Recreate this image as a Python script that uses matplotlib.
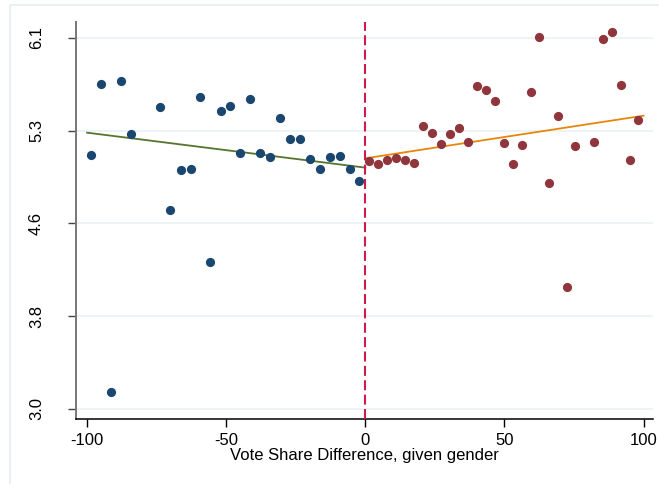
import matplotlib.pyplot as plt
import matplotlib.patches as patches

plt.rcParams['font.family'] = ['Liberation Sans', 'DejaVu Sans']

# left of cutoff (bin means)
left_x = [-98.6, -95.0, -91.5, -87.9, -84.2, -73.7, -70.1, -66.4, -62.8, -59.3,
          -55.7, -52.0, -48.5, -45.0, -41.4, -37.9, -34.3, -30.7, -27.2, -23.6,
          -20.0, -16.4, -12.8, -9.2, -5.6, -2.2]
left_y = [5.118, 5.714, 3.145, 5.739, 5.294, 5.524, 4.659, 4.996, 5.004, 5.605,
          4.225, 5.488, 5.527, 5.135, 5.591, 5.135, 5.107, 5.430, 5.257, 5.252,
          5.087, 5.002, 5.102, 5.110, 5.002, 4.904]

# right of cutoff (bin means)
right_x = [1.3, 4.6, 7.9, 11.0, 14.3, 17.4, 20.7, 24.0, 27.2, 30.3,
           33.6, 36.8, 40.0, 43.3, 46.5, 49.9, 53.0, 56.3, 59.5, 62.5,
           65.9, 69.2, 72.4, 75.5, 82.1, 85.3, 88.6, 91.7, 95.0, 98.1]
right_y = [5.073, 5.046, 5.079, 5.096, 5.079, 5.052, 5.363, 5.302, 5.215, 5.299,
           5.344, 5.227, 5.697, 5.661, 5.569, 5.224, 5.046, 5.202, 5.647, 6.106,
           4.887, 5.446, 4.017, 5.194, 5.227, 6.089, 6.150, 5.705, 5.079, 5.413]

# linear fits on each side
fit_left_x = [-100, 0]
fit_left_y = [5.307, 5.015]
fit_right_x = [0, 100]
fit_right_y = [5.093, 5.449]

yticks = [3.0, 3.775, 4.55, 5.325, 6.1]
ytick_labels = ["3.0", "3.8", "4.6", "5.3", "6.1"]
xticks = [-100, -50, 0, 50, 100]

fig = plt.figure(figsize=(6.59, 4.84), dpi=100)
fig.patches.append(patches.Rectangle((10 / 659, -0.1), 1.2, 1 - 4.5 / 484 + 0.1,
                                     transform=fig.transFigure, fill=False,
                                     edgecolor="#e6eef0", linewidth=1.2))
ax = fig.add_axes([0.1153, 0.1337, 0.8761, 0.8208])

for y in yticks:
    ax.axhline(y, color="#eaf2f3", linewidth=1.2, zorder=0)

ax.scatter(left_x, left_y, s=44, color="#1a476f", zorder=3, linewidths=0)
ax.scatter(right_x, right_y, s=44, color="#90353b", zorder=3, linewidths=0)
ax.plot(fit_left_x, fit_left_y, color="#55752f", linewidth=1.3, zorder=2)
ax.plot(fit_right_x, fit_right_y, color="#e8860c", linewidth=1.3, zorder=2)
ax.axvline(0, color="#cf1a4e", linewidth=1.5, linestyle=(0, (4.8, 2.1)), zorder=4)

ax.set_xlim(-104, 103.5)
ax.set_ylim(2.914, 6.231)
ax.set_xticks(xticks)
ax.set_xticklabels([str(v) for v in xticks])
ax.set_yticks(yticks)
ax.set_yticklabels(ytick_labels, rotation=90, va="center")
ax.tick_params(axis="x", length=6, width=1, pad=4, labelsize=12)
ax.tick_params(axis="y", length=6, width=1, pad=17, labelsize=12, color="#444444")
ax.set_xlabel("Vote Share Difference, given gender", fontsize=12, labelpad=0)

ax.spines["top"].set_visible(False)
ax.spines["right"].set_visible(False)
ax.spines["left"].set_color("#777777")
ax.spines["left"].set_linewidth(1.4)
ax.spines["bottom"].set_linewidth(1.1)

plt.savefig("out.png", dpi=100)
plt.close()
